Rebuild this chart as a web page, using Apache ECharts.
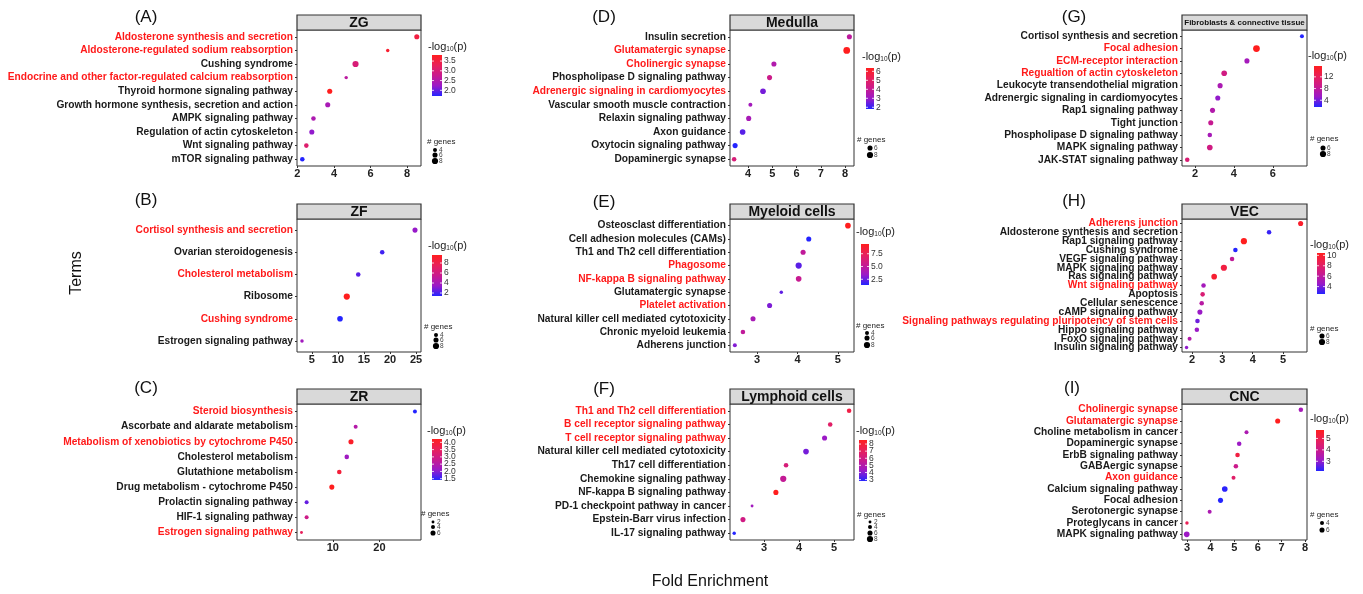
<!DOCTYPE html>
<html><head><meta charset="utf-8">
<script src="https://cdn.jsdelivr.net/npm/echarts@6/dist/echarts.min.js"></script>
<style>html,body{margin:0;padding:0;background:#fff}#c{width:1363px;height:594px}</style>
</head><body><div id="c"></div>
<script>
// ---------------- DATA ----------------
const termsA = ['Aldosterone synthesis and secretion','Aldosterone-regulated sodium reabsorption','Cushing syndrome','Endocrine and other factor-regulated calcium reabsorption','Thyroid hormone signaling pathway','Growth hormone synthesis, secretion and action','AMPK signaling pathway','Regulation of actin cytoskeleton','Wnt signaling pathway','mTOR signaling pathway'];
const foldA = [8.53,6.94,5.18,4.67,3.77,3.66,2.88,2.79,2.49,2.27];
const logpA = [3.5,3.65,3.0,2.6,3.81,2.4,2.45,2.2,3.1,1.71];
const genesA = [6,3,8,3,6,6,5,6,5,5];
const redA = ['Aldosterone synthesis and secretion','Aldosterone-regulated sodium reabsorption','Endocrine and other factor-regulated calcium reabsorption'];
const xTicksA = [2,4,6,8];
const cTicksA = ['2.0','2.5','3.0','3.5'];
const sizeBreaksA = [4,6,8];

const termsB = ['Cortisol synthesis and secretion','Ovarian steroidogenesis','Cholesterol metabolism','Ribosome','Cushing syndrome','Estrogen signaling pathway'];
const foldB = [24.8,18.5,13.9,11.7,10.4,3.1];
const logpB = [3.4,1.9,2.3,9.6,1.4,3.8];
const genesB = [6,5,5,8,7,3];
const redB = ['Cortisol synthesis and secretion','Cholesterol metabolism','Cushing syndrome'];
const xTicksB = [5,10,15,20,25];
const cTicksB = ['2','4','6','8'];
const sizeBreaksB = [4,6,8];

const termsC = ['Steroid biosynthesis','Ascorbate and aldarate metabolism','Metabolism of xenobiotics by cytochrome P450','Cholesterol metabolism','Glutathione metabolism','Drug metabolism - cytochrome P450','Prolactin signaling pathway','HIF-1 signaling pathway','Estrogen signaling pathway'];
const foldC = [27.6,14.9,13.9,13.0,11.4,9.8,4.4,4.4,3.3];
const logpC = [1.41,2.5,4.1,2.2,3.9,4.23,1.8,2.9,3.5];
const genesC = [4,4,6,5,5,6,4,4,2];
const redC = ['Steroid biosynthesis','Metabolism of xenobiotics by cytochrome P450','Estrogen signaling pathway'];
const xTicksC = [10,20];
const cTicksC = ['1.5','2.0','2.5','3.0','3.5','4.0'];
const sizeBreaksC = [2,4,6];

const termsD = ['Insulin secretion','Glutamatergic synapse','Cholinergic synapse','Phospholipase D signaling pathway','Adrenergic signaling in cardiomyocytes','Vascular smooth muscle contraction','Relaxin signaling pathway','Axon guidance','Oxytocin signaling pathway','Dopaminergic synapse'];
const foldD = [8.18,8.07,5.07,4.89,4.62,4.10,4.03,3.78,3.47,3.43];
const logpD = [3.8,6.37,3.5,4.2,2.6,3.2,3.3,2.3,1.81,4.6];
const genesD = [6,9,6,6,7,4,6,7,6,5];
const redD = ['Glutamatergic synapse','Cholinergic synapse','Adrenergic signaling in cardiomyocytes'];
const xTicksD = [4,5,6,7,8];
const cTicksD = ['2','3','4','5','6'];
const sizeBreaksD = [6,8];

const termsE = ['Osteosclast differentiation','Cell adhesion molecules (CAMs)','Th1 and Th2 cell differentiation','Phagosome','NF-kappa B signaling pathway','Glutamatergic synapse','Platelet activation','Natural killer cell mediated cytotoxicity','Chronic myeloid leukemia','Adherens junction'];
const foldE = [5.25,4.28,4.14,4.03,4.03,3.60,3.31,2.90,2.65,2.45];
const logpE = [9.4,1.38,5.0,2.3,5.3,2.4,2.9,4.0,5.0,3.0];
const genesE = [7,6,6,8,7,3,6,6,5,4];
const redE = ['Phagosome','NF-kappa B signaling pathway','Platelet activation'];
const xTicksE = [3,4,5];
const cTicksE = ['2.5','5.0','7.5'];
const sizeBreaksE = [4,6,8];

const termsF = ['Th1 and Th2 cell differentiation','B cell receptor signaling pathway','T cell receptor signaling pathway','Natural killer cell mediated cytotoxicity','Th17 cell differentiation','Chemokine signaling pathway','NF-kappa B signaling pathway','PD-1 checkpoint pathway in cancer','Epstein-Barr virus infection','IL-17 signaling pathway'];
const foldF = [5.43,4.89,4.73,4.20,3.63,3.55,3.34,2.66,2.40,2.15];
const logpF = [7.6,6.8,4.3,3.8,6.3,5.5,8.57,4.5,6.0,2.8];
const genesF = [5,5,6,7,5,8,6,2,6,3];
const redF = ['Th1 and Th2 cell differentiation','B cell receptor signaling pathway','T cell receptor signaling pathway'];
const xTicksF = [3,4,5];
const cTicksF = ['3','4','5','6','7','8'];
const sizeBreaksF = [2,4,6,8];

const termsG = ['Cortisol synthesis and secretion','Focal adhesion','ECM-receptor interaction','Regualtion of actin cytoskeleton','Leukocyte transendothelial migration','Adrenergic signaling in cardiomyocytes','Rap1 signaling pathway','Tight junction','Phospholipase D signaling pathway','MAPK signaling pathway','JAK-STAT signaling pathway'];
const foldG = [7.5,5.16,4.67,3.5,3.29,3.17,2.90,2.81,2.76,2.76,1.60];
const logpG = [1.7,15.7,6.0,9.5,6.5,5.0,7.0,8.5,6.2,9.5,10.5];
const genesG = [4,9,6,7,6,6,6,6,5,7,5];
const redG = ['Focal adhesion','ECM-receptor interaction','Regualtion of actin cytoskeleton'];
const xTicksG = [2,4,6];
const cTicksG = ['4','8','12'];
const sizeBreaksG = [6,8];

const termsH = ['Adherens junction','Aldosterone synthesis and secretion','Rap1 signaling pathway','Cushing syndrome','VEGF signaling pathway','MAPK signaling pathway','Ras signaling pathway','Wnt signaling pathway','Apoptosis','Cellular senescence','cAMP signaling pathway','Signaling pathways regulating pluripotency of stem cells','Hippo signaling pathway','FoxO signaling pathway','Insulin signaling pathway'];
const foldH = [5.58,4.54,3.71,3.43,3.32,3.05,2.73,2.38,2.35,2.32,2.26,2.18,2.16,1.92,1.82];
const logpH = [10.0,2.9,10.45,2.58,6.2,9.3,9.8,5.0,7.5,5.8,4.6,3.8,4.6,5.6,4.4];
const genesH = [6,5,8,5,5,8,7,5,5,5,6,5,5,4,3];
const redH = ['Adherens junction','Wnt signaling pathway','Signaling pathways regulating pluripotency of stem cells'];
const xTicksH = [2,3,4,5];
const cTicksH = ['4','6','8','10'];
const sizeBreaksH = [6,8];

const termsI = ['Cholinergic synapse','Glutamatergic synapse','Choline metabolism in cancer','Dopaminergic synapse','ErbB signaling pathway','GABAergic synapse','Axon guidance','Calcium signaling pathway','Focal adhesion','Serotonergic synapse','Proteglycans in cancer','MAPK signaling pathway'];
const foldI = [7.82,6.84,5.52,5.21,5.14,5.07,4.97,4.60,4.42,3.96,3.0,2.99];
const logpI = [3.3,5.74,3.4,3.1,5.2,4.0,4.6,2.2,2.15,3.4,4.9,3.1];
const genesI = [5,6,4,5,5,5,4,7,6,4,3,7];
const redI = ['Cholinergic synapse','Glutamatergic synapse','Axon guidance'];
const xTicksI = [3,4,5,6,7,8];
const cTicksI = ['3','4','5'];
const sizeBreaksI = [4,6];

const stripTitles = ['ZG','ZF','ZR','Medulla','Myeloid cells','Lymphoid cells','Fibroblasts & connective tissue','VEC','CNC'];
const panelTags = ['(A)','(B)','(C)','(D)','(E)','(F)','(G)','(H)','(I)'];

// ---------------- LAYOUT ----------------
const FONT = 'Liberation Sans, Arial, Helvetica, sans-serif';
const colLeft = [297, 730, 1182], colRight = [421, 854, 1307];
const stripTop = [15, 204, 389], plotTop = [30, 219, 404], plotBottom = [166, 352, 540];
const layout = [
  {col:0,row:0,xMin:1.98,xMax:8.76, tag:[146,17], t:[428,47], b:[432,55,10], g:[427,142], d:[435,[150,155,161]], sf:14},
  {col:0,row:1,xMin:2.14,xMax:25.95,tag:[146,200],t:[428,246],b:[432,255,10], g:[424,327], d:[436,[335,340,346]], sf:14},
  {col:0,row:2,xMin:2.34,xMax:28.9, tag:[146,388],t:[427,431],b:[432,439,10], g:[421,514], d:[433,[522,527,533]], sf:14},
  {col:1,row:0,xMin:3.26,xMax:8.37, tag:[604,17], t:[862,57], b:[866,68,8],  g:[857,140], d:[870,[148,155]], sf:14},
  {col:1,row:1,xMin:2.33,xMax:5.40, tag:[604,202],t:[856,232],b:[861,244,8], g:[856,326], d:[867,[333,338,345]], sf:14},
  {col:1,row:2,xMin:2.03,xMax:5.57, tag:[604,389],t:[856,431],b:[859,440,8], g:[857,515], d:[870,[522,527,533,539]], sf:14},
  {col:2,row:0,xMin:1.33,xMax:7.76, tag:[1074,17],t:[1308,56],b:[1314,66,8], g:[1310,139],d:[1323,[148,154]], sf:8},
  {col:2,row:1,xMin:1.67,xMax:5.79, tag:[1074,201],t:[1310,245],b:[1317,253,8],g:[1310,329],d:[1322,[336,342]], sf:14},
  {col:2,row:2,xMin:2.79,xMax:8.08, tag:[1072,388],t:[1310,419],b:[1316,430,8],g:[1310,515],d:[1322,[523,530]], sf:14}
];
const BAR_H = 41;
const gradStops = ['#2424FF','#9A1AC8','#C91A8E','#E8205A','#FF1E1E'];
const dotSize = g => 1.8 + 0.55 * g;

const panels = [
  [termsA,foldA,logpA,genesA,redA,xTicksA,cTicksA,sizeBreaksA],
  [termsB,foldB,logpB,genesB,redB,xTicksB,cTicksB,sizeBreaksB],
  [termsC,foldC,logpC,genesC,redC,xTicksC,cTicksC,sizeBreaksC],
  [termsD,foldD,logpD,genesD,redD,xTicksD,cTicksD,sizeBreaksD],
  [termsE,foldE,logpE,genesE,redE,xTicksE,cTicksE,sizeBreaksE],
  [termsF,foldF,logpF,genesF,redF,xTicksF,cTicksF,sizeBreaksF],
  [termsG,foldG,logpG,genesG,redG,xTicksG,cTicksG,sizeBreaksG],
  [termsH,foldH,logpH,genesH,redH,xTicksH,cTicksH,sizeBreaksH],
  [termsI,foldI,logpI,genesI,redI,xTicksI,cTicksI,sizeBreaksI]
];

const grid = [], xAxis = [], yAxis = [], series = [], visualMap = [], graphic = [];
panels.forEach((p, i) => {
  const [terms, fold, logp, genes, red, xt, ct, sb] = p;
  const L = layout[i];
  const x0 = colLeft[L.col], x1 = colRight[L.col];
  const top = plotTop[L.row], bot = plotBottom[L.row];
  grid.push({left:x0, top:top, width:x1-x0, height:bot-top, show:true, borderColor:'#333', borderWidth:1, backgroundColor:'#fff', containLabel:false});
  xAxis.push({type:'value', gridIndex:i, min:L.xMin, max:L.xMax,
    axisLine:{show:false}, splitLine:{show:false},
    axisTick:{show:true, length:2, lineStyle:{color:'#333'}, customValues:xt},
    axisLabel:{customValues:xt, fontFamily:FONT, fontWeight:'bold', fontSize:11, color:'#222', margin:2}});
  yAxis.push({type:'category', gridIndex:i, inverse:true, boundaryGap:true,
    data: terms.map(t => red.includes(t) ? {value:t, textStyle:{color:'#FF1A1A'}} : t),
    axisLine:{show:false}, splitLine:{show:false},
    axisTick:{show:true, length:2, alignWithLabel:true, lineStyle:{color:'#333'}},
    axisLabel:{interval:0, fontFamily:FONT, fontWeight:'bold', fontSize:10.2, color:'#1a1a1a', margin:4}});
  series.push({type:'scatter', xAxisIndex:i, yAxisIndex:i, symbol:'circle',
    data: terms.map((t, j) => [fold[j], t, logp[j], genes[j]]),
    symbolSize: v => dotSize(v[3]),
    itemStyle:{opacity:1}, emphasis:{disabled:true}, silent:true});
  const cMin = Math.min(...logp), cMax = Math.max(...logp);
  const [bx, by, bw] = L.b;
  visualMap.push({type:'continuous', seriesIndex:i, dimension:2, min:cMin, max:cMax,
    inRange:{color:gradStops}, show:false});
  // colour bar (legend)
  graphic.push({type:'rect', shape:{x:bx, y:by, width:bw, height:BAR_H},
    style:{fill:new echarts.graphic.LinearGradient(0, 1, 0, 0, gradStops.map((c, k) => ({offset:k/(gradStops.length-1), color:c})))}});
  // strip
  graphic.push({type:'rect', shape:{x:x0, y:stripTop[L.row], width:x1-x0, height:plotTop[L.row]-stripTop[L.row]},
    style:{fill:'#D9D9D9', stroke:'#333', lineWidth:1.2}, z:10});
  graphic.push({type:'text', x:(x0+x1)/2, y:(stripTop[L.row]+plotTop[L.row])/2+0.5, z:11,
    style:{text:stripTitles[i], font:'bold '+L.sf+'px '+FONT, fill:'#111', textAlign:'center', textVerticalAlign:'middle'}});
  // tag
  graphic.push({type:'text', x:L.tag[0], y:L.tag[1], style:{text:panelTags[i], font:'17px '+FONT, fill:'#111', textAlign:'center', textVerticalAlign:'middle'}});
  // colour legend title
  graphic.push({type:'text', x:L.t[0], y:L.t[1], style:{text:'-log{s|10}(p)', font:'11px '+FONT, fill:'#222', textAlign:'left', textVerticalAlign:'middle',
    rich:{s:{fontSize:6.5, fontFamily:FONT, lineHeight:6, verticalAlign:'bottom', fill:'#222'}}}});
  // colour ticks
  ct.forEach(s => {
    const v = parseFloat(s);
    const yy = by + BAR_H * (1 - (v - cMin) / (cMax - cMin));
    graphic.push({type:'text', x:bx + bw + 2, y:yy, style:{text:s, font:'8.5px '+FONT, fill:'#333', textAlign:'left', textVerticalAlign:'middle'}});
    graphic.push({type:'line', shape:{x1:bx, y1:yy, x2:bx+2, y2:yy}, style:{stroke:'#fff', lineWidth:0.8}, z:20});
    graphic.push({type:'line', shape:{x1:bx+bw-2, y1:yy, x2:bx+bw, y2:yy}, style:{stroke:'#fff', lineWidth:0.8}, z:20});
  });
  // size legend
  graphic.push({type:'text', x:L.g[0], y:L.g[1], style:{text:'# genes', font:'8px '+FONT, fill:'#222', textAlign:'left', textVerticalAlign:'middle'}});
  sb.forEach((g, k) => {
    const yy = L.d[1][k];
    graphic.push({type:'circle', shape:{cx:L.d[0], cy:yy, r:dotSize(g)/2}, style:{fill:'#000'}});
    graphic.push({type:'text', x:L.d[0]+4, y:yy, style:{text:String(g), font:'6.5px '+FONT, fill:'#444', textAlign:'left', textVerticalAlign:'middle'}});
  });
});
graphic.push({type:'text', x:77, y:273, rotation:Math.PI/2, style:{text:'Terms', font:'16px '+FONT, fill:'#111', textAlign:'center', textVerticalAlign:'middle'}});
graphic.push({type:'text', x:710, y:582, style:{text:'Fold Enrichment', font:'16px '+FONT, fill:'#111', textAlign:'center', textVerticalAlign:'middle'}});

const chart = echarts.init(document.getElementById('c'), null, {renderer:'canvas'});
chart.setOption({animation:false, backgroundColor:'#fff', grid, xAxis, yAxis, series, visualMap, graphic});
</script></body></html>
